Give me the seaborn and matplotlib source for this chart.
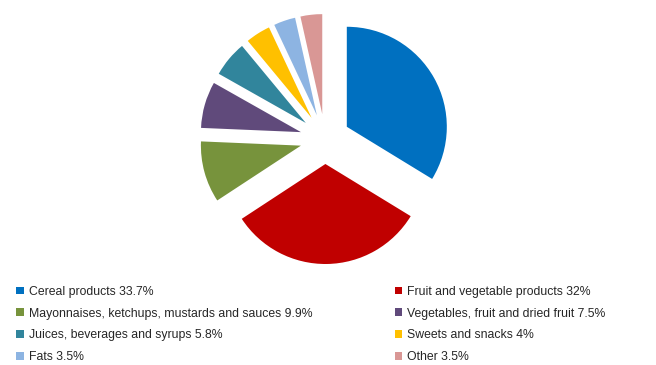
import matplotlib
matplotlib.use("Agg")
import matplotlib.pyplot as plt
import seaborn as sns

# Data
categories = ["Cereal products", "Fruit and vegetable products",
              "Mayonnaises, ketchups, mustards and sauces", "Vegetables, fruit and dried fruit",
              "Juices, beverages and syrups", "Sweets and snacks", "Fats", "Other"]
shares = [33.7, 32, 9.9, 7.5, 5.8, 4, 3.5, 3.5]
share_labels = ["33.7%", "32%", "9.9%", "7.5%", "5.8%", "4%", "3.5%", "3.5%"]

colors = ["#0070C0", "#C00000", "#77933C", "#604A7B",
          "#31859C", "#FFC000", "#8DB4E2", "#D99795"]

sns.set_theme(style="white")
plt.rcParams['font.family'] = ['Liberation Sans', 'DejaVu Sans']

fig = plt.figure(figsize=(6.56, 3.65), dpi=100)
ax = fig.add_axes([0, 0, 1, 1])

wedges, _ = ax.pie(shares, colors=sns.color_palette(colors), startangle=90,
                   counterclock=False, explode=[0.25] * len(shares),
                   wedgeprops=dict(linewidth=0))

# 1 data unit = 100 px, pie centre at (325, 139) px from top-left
ax.set_xlim(-3.25, 3.31)
ax.set_ylim(-2.26, 1.39)
ax.set_aspect("equal")
ax.axis("off")

labels = [f"{c} {s}" for c, s in zip(categories, share_labels)]
leg_kw = dict(loc="upper left", frameon=False, fontsize=8.8, handlelength=0.6,
              handleheight=0.6, handletextpad=0.4, labelspacing=0.8,
              borderaxespad=0, borderpad=0)

# legend reads row-wise: even items left column, odd items right column
left = ax.legend(wedges[0::2], labels[0::2], bbox_to_anchor=(0.025, 0.217), **leg_kw)
ax.add_artist(left)
ax.legend(wedges[1::2], labels[1::2], bbox_to_anchor=(0.602, 0.217), **leg_kw)

fig.savefig("out.png", dpi=100)
